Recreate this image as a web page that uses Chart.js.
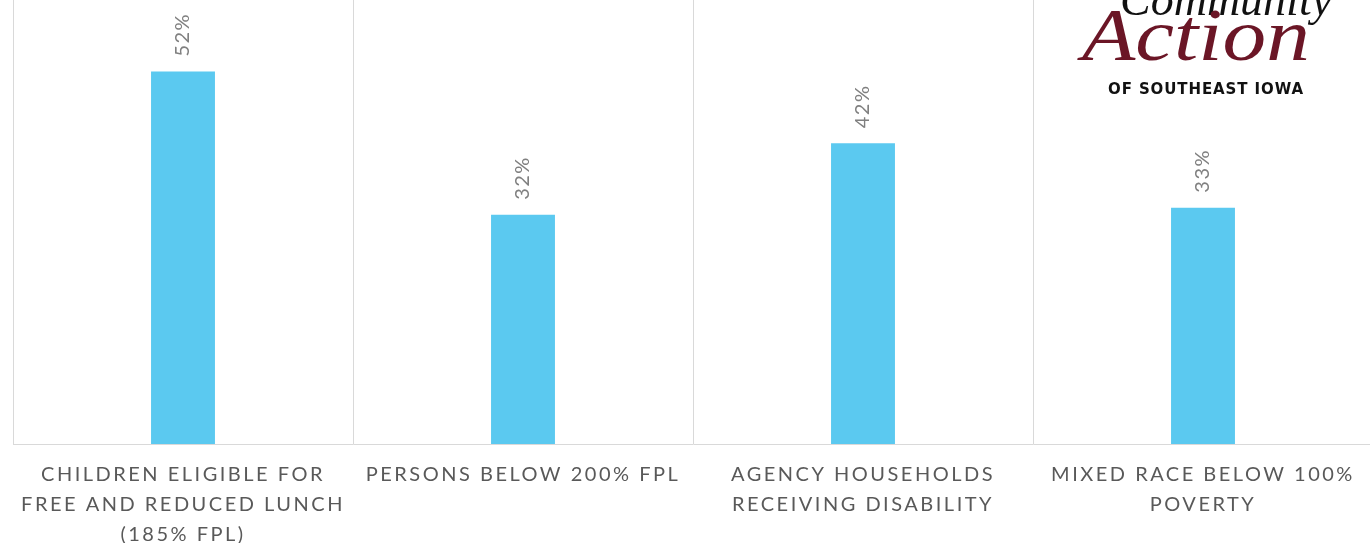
<!DOCTYPE html>
<html>
<head>
<meta charset="utf-8">
<script src="https://cdn.jsdelivr.net/npm/chart.js@4.4.1/dist/chart.umd.min.js"></script>
<style>
  html, body { margin: 0; padding: 0; background: #ffffff; overflow: hidden; width: 1370px; height: 543px; }
  #wrap { position: absolute; left: 0; top: 0; width: 1390px; height: 543px; }
  .logo { position: absolute; white-space: nowrap; }
  #l1 { left: 1120px; top: -27px; font: italic 46px "Liberation Serif", serif; color: #111; }
  #l2 { left: 1082px; top: -7px; font: italic 74px "Liberation Serif", serif; color: #6b1626; transform: scaleX(1.18); transform-origin: left top; }
  #l3 { left: 1108px; top: 80px; font: bold 15px "DejaVu Sans", sans-serif; color: #111; letter-spacing: 0.9px; }
</style>
</head>
<body>
<div id="wrap"><canvas id="c"></canvas></div>
<div class="logo" id="l1">Community</div>
<div class="logo" id="l2">Action</div>
<div class="logo" id="l3">OF SOUTHEAST IOWA</div>
<script>
const categories = [
  ["CHILDREN ELIGIBLE FOR", "FREE AND REDUCED LUNCH", "(185% FPL)"],
  ["PERSONS BELOW 200% FPL"],
  ["AGENCY HOUSEHOLDS", "RECEIVING DISABILITY"],
  ["MIXED RACE BELOW 100%", "POVERTY"]
];
const values = [52, 32, 42, 33];
const valueLabels = ["52%", "32%", "42%", "33%"];

const spacingPlugin = {
  id: 'spacing',
  beforeLayout(chart) { chart.ctx.letterSpacing = '2.5px'; },
  beforeDraw(chart) { chart.ctx.letterSpacing = '2.5px'; }
};

const labelPlugin = {
  id: 'vlabels',
  afterDatasetsDraw(chart) {
    const ctx = chart.ctx;
    const meta = chart.getDatasetMeta(0);
    ctx.save();
    ctx.letterSpacing = '1.5px';
    ctx.fillStyle = '#808080';
    ctx.font = '20px Lato, "Open Sans", sans-serif';
    ctx.textAlign = 'left';
    ctx.textBaseline = 'middle';
    meta.data.forEach((bar, i) => {
      ctx.save();
      ctx.translate(bar.x, bar.y - 15);
      ctx.rotate(-Math.PI / 2);
      ctx.fillText(valueLabels[i], 0, 0);
      ctx.restore();
    });
    ctx.restore();
  }
};

new Chart(document.getElementById('c'), {
  type: 'bar',
  data: {
    labels: categories,
    datasets: [{
      data: values,
      backgroundColor: '#5bc9f0',
      borderWidth: 0,
      categoryPercentage: 1,
      barPercentage: 0.188
    }]
  },
  options: {
    responsive: true,
    maintainAspectRatio: false,
    animation: false,
    layout: { padding: { left: 13, right: 17, top: 0, bottom: 0 } },
    plugins: { legend: { display: false }, tooltip: { enabled: false } },
    scales: {
      y: { display: false, min: 0, max: 62 },
      x: {
        grid: { color: '#d9d9d9', lineWidth: 1, drawTicks: false, offset: true },
        border: { color: '#d9d9d9', width: 1 },
        ticks: {
          color: '#595959',
          font: { family: 'Lato, "Open Sans", sans-serif', size: 20, lineHeight: 1.5 },
          padding: 16,
          maxRotation: 0,
          autoSkip: false
        },
        afterFit(scale) { scale.height = 99; }
      }
    }
  },
  plugins: [spacingPlugin, labelPlugin]
});
</script>
</body>
</html>
